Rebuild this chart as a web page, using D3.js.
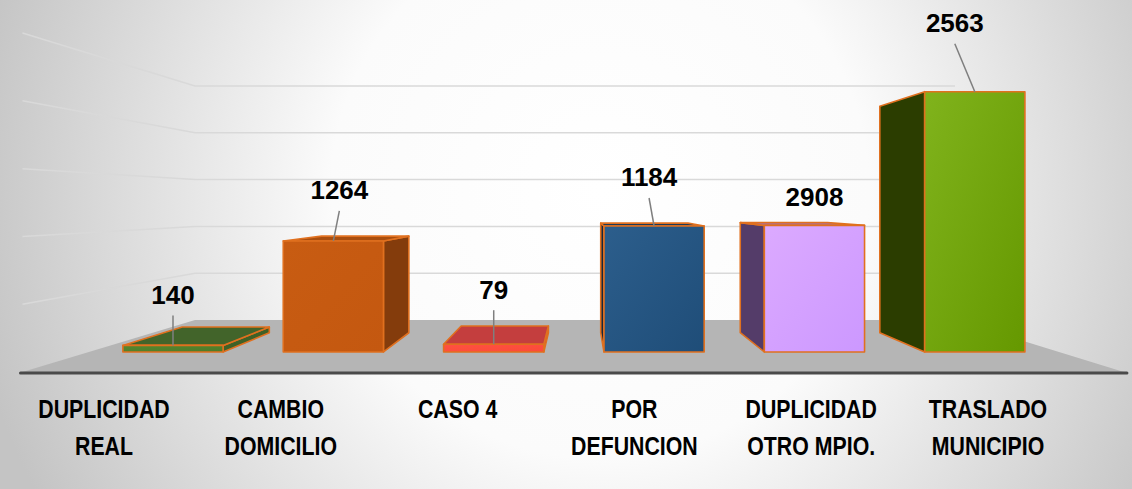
<!DOCTYPE html>
<html>
<head>
<meta charset="utf-8">
<script src="https://cdn.jsdelivr.net/npm/d3@7"></script>
<style>
html, body { margin: 0; padding: 0; background: #fff; }
svg { display: block; }
</style>
</head>
<body>
<div id="chart"></div>
<script>
// categories (line break = wrapped axis label)
const categories = ["DUPLICIDAD\nREAL", "CAMBIO\nDOMICILIO", "CASO 4", "POR\nDEFUNCION", "DUPLICIDAD\nOTRO MPIO.", "TRASLADO\nMUNICIPIO"];
// numbers printed on the bars
const labelValues = [140, 1264, 79, 1184, 2908, 2563];
// bar heights as drawn (read off the gridlines, they don't follow the printed numbers)
const barHeights = [11, 186, 13, 211, 212, 436];
const gridTicks = [100, 200, 300, 400, 500];

// styles
const frontColors = [["#55872f", "#4c7a29"], ["#c85c12", "#c45810"], ["#ff5141", "#fb4a3a"], ["#2c5e8c", "#1f4d78"], ["#dcaaff", "#cc98ff"], ["#80b31c", "#659800"]];
const sideColors = ["#3f6127", "#843c0c", "#c23a36", "#19263a", "#543c69", "#2b3d00"];
const topColors = ["#42642a", "#a94e0f", "#c43e3e", "#1f3a57", "#9a6fc4", "#4d7010"];
const labelNudge = [[0, -51], [6, -51], [0, -55], [-5, -49], [0, -29], [-20, -69]];

const W = 1132, H = 489;
const svg = d3.select('#chart').append('svg').attr('width', W).attr('height', H);
const defs = svg.append('defs');

// background
const bg = defs.append('radialGradient').attr('id', 'bg').attr('gradientUnits', 'userSpaceOnUse')
  .attr('cx', 600).attr('cy', 190).attr('r', 640);
bg.append('stop').attr('offset', 0).attr('stop-color', '#ffffff');
bg.append('stop').attr('offset', 0.42).attr('stop-color', '#fbfbfb');
bg.append('stop').attr('offset', 1).attr('stop-color', '#c4c4c4');
svg.append('rect').attr('width', W).attr('height', H).attr('fill', 'url(#bg)');

// perspective: vanishing point, floor level at the back wall
const vpX = 579, vpY = 204, floorBack = 116;
const dBack = 1, dFront = 0.69, barFront = 0.784, barBack = 0.901;
function proj(X, Y, d) {
  const s = 1 / d;
  return [vpX + s * (X - vpX), vpY + s * (floorBack - Y)];
}
const poly = pts => pts.map(p => proj(p[0], p[1], p[2]).join(',')).join(' ');

const x = d3.scaleBand().domain(categories).range([195, 955]).paddingInner(0.375).paddingOuter(0.21);
const y = d3.scaleLinear().domain([0, 500]).range([0, 234]);
const [X0, X1] = x.range();

// floor
svg.append('polygon')
  .attr('points', poly([[X0, 0, dBack], [X1, 0, dBack], [X1, 0, dFront], [X0, 0, dFront]]))
  .attr('fill', '#b5b5b5');

// gridlines: back wall and left wall
const grid = svg.append('g').attr('stroke', '#d9d9d9').attr('stroke-width', 1.5).attr('fill', 'none');
gridTicks.forEach(t => {
  const a = proj(X0, y(t), dFront), b = proj(X0, y(t), dBack), c = proj(X1, y(t), dBack);
  grid.append('polyline').attr('points', [a, b, c].map(p => p.join(',')).join(' '));
});

// floor front edge
const fe0 = proj(X0, 0, dFront), fe1 = proj(X1, 0, dFront);
svg.append('line').attr('x1', fe0[0] - 2).attr('y1', fe0[1] + 1).attr('x2', fe1[0] + 3).attr('y2', fe1[1] + 1)
  .attr('stroke', '#4a4a4a').attr('stroke-width', 3).attr('stroke-linecap', 'round');

// bars
categories.forEach((c, i) => {
  const g = defs.append('linearGradient').attr('id', 'f' + i)
    .attr('x1', 0).attr('y1', 0).attr('x2', 1).attr('y2', 1);
  g.append('stop').attr('offset', 0).attr('stop-color', frontColors[i][0]);
  g.append('stop').attr('offset', 1).attr('stop-color', frontColors[i][1]);
});

const bars = svg.append('g').attr('stroke', '#e0701f').attr('stroke-width', 1.6).attr('stroke-linejoin', 'round');
categories.forEach((c, i) => {
  const a = x(c), b = x(c) + x.bandwidth(), h = y(barHeights[i]);
  if (b < vpX) {
    bars.append('polygon').attr('fill', sideColors[i])
      .attr('points', poly([[b, 0, barFront], [b, 0, barBack], [b, h, barBack], [b, h, barFront]]));
  }
  if (a > vpX) {
    bars.append('polygon').attr('fill', sideColors[i])
      .attr('points', poly([[a, 0, barFront], [a, 0, barBack], [a, h, barBack], [a, h, barFront]]));
  }
  if (h < floorBack) {
    bars.append('polygon').attr('fill', topColors[i])
      .attr('points', poly([[a, h, barFront], [b, h, barFront], [b, h, barBack], [a, h, barBack]]));
  }
  bars.append('polygon').attr('fill', 'url(#f' + i + ')')
    .attr('points', poly([[a, 0, barFront], [b, 0, barFront], [b, h, barFront], [a, h, barFront]]));
});

// value labels with leader lines
const vl = svg.append('g');
categories.forEach((c, i) => {
  const anchor = proj(x(c) + x.bandwidth() / 2, y(barHeights[i]), barFront);
  const lx = anchor[0] + labelNudge[i][0], ly = anchor[1] + labelNudge[i][1];
  if (ly + 21 < anchor[1] - 12) {
    vl.append('line').attr('x1', lx).attr('y1', ly + 21).attr('x2', anchor[0]).attr('y2', anchor[1])
      .attr('stroke', '#7f7f7f').attr('stroke-width', 1.5);
  }
  vl.append('text').attr('x', lx).attr('y', ly).attr('dy', '0.36em')
    .attr('text-anchor', 'middle')
    .style('font-family', "'Liberation Sans', Arial, sans-serif")
    .style('font-weight', 'bold').style('font-size', '26px').attr('fill', '#000')
    .text(labelValues[i]);
});

// category labels (narrowed to the original's condensed bold face)
const lab = d3.scalePoint().domain(categories).range([104, 988]);
const cl = svg.append('g')
  .style('font-family', "'Liberation Sans', Arial, sans-serif")
  .style('font-weight', 'bold').style('font-size', '26px').attr('fill', '#000').attr('text-anchor', 'middle');
categories.forEach(c => {
  const t = cl.append('text').attr('transform', `translate(${lab(c)},418) scale(0.82,1)`);
  c.split('\n').forEach((line, k) => {
    t.append('tspan').attr('x', 0).attr('dy', k ? 37 : 0).text(line);
  });
});
</script>
</body>
</html>
